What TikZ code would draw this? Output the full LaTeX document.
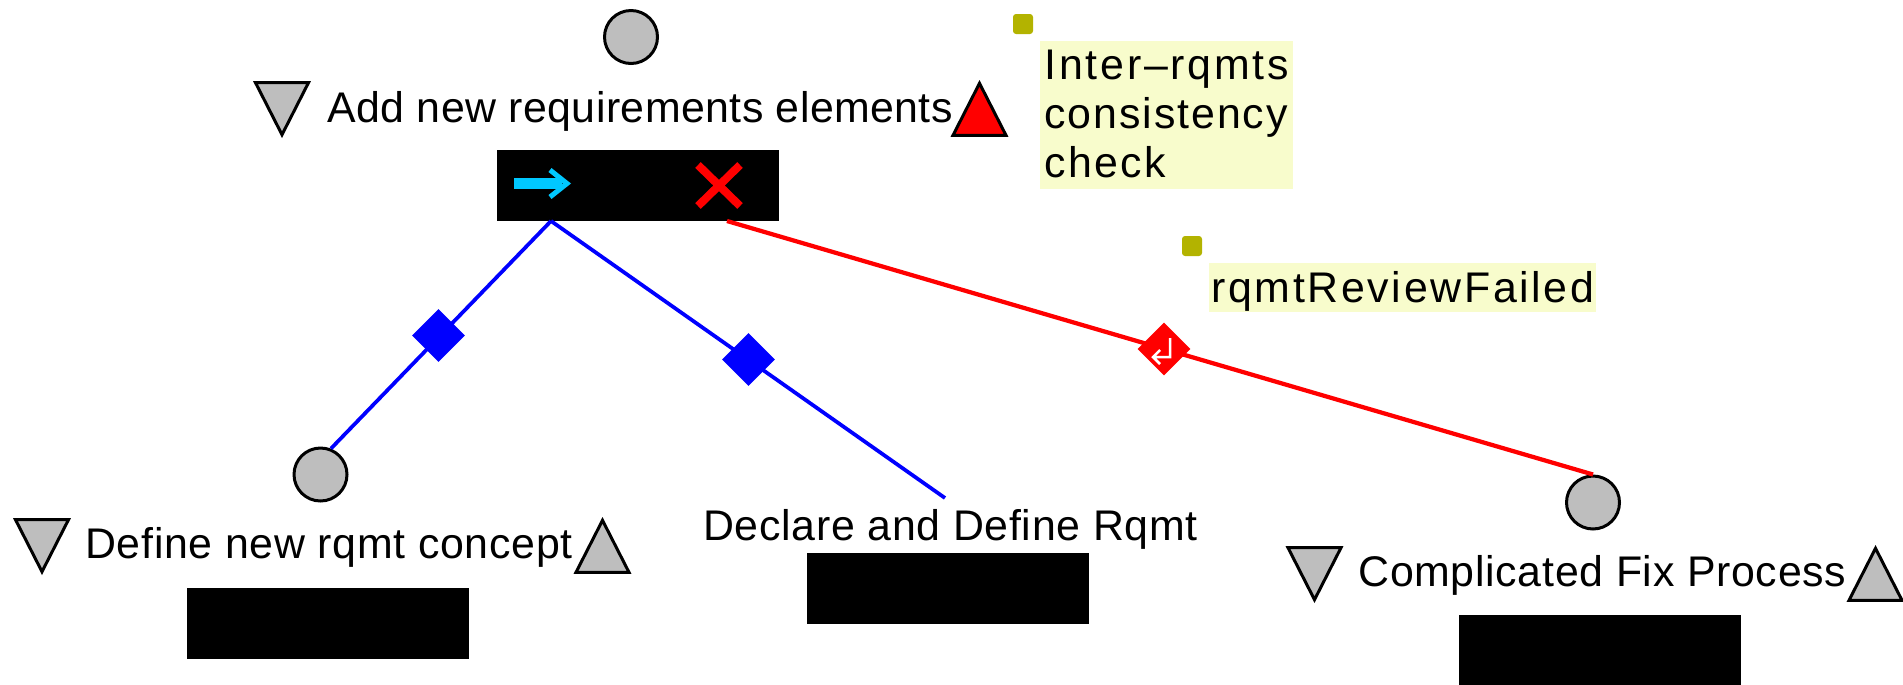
\documentclass[tikz,border=0pt]{standalone}
\usepackage{fontspec}
\usetikzlibrary{shapes.geometric}
\newfontfamily\labelfont[LetterSpace=1.6]{Liberation Sans}
\newfontfamily\notefont[LetterSpace=5.5]{Liberation Sans}
\definecolor{noteyellow}{RGB}{248,252,204}
\definecolor{noteolive}{RGB}{179,179,0}
\definecolor{portgray}{RGB}{190,190,190}
\definecolor{startcyan}{RGB}{0,200,255}
\begin{document}
\begin{tikzpicture}[x=0.02cm, y=-0.02cm,
  lbl/.style={anchor=base west, inner sep=0pt, font=\labelfont\fontsize{24.4}{27.8}\selectfont},
  notelbl/.style={lbl, font=\notefont\fontsize{24.4}{27.8}\selectfont},
  port/.style={circle, draw, line width=0.6mm, fill=portgray, inner sep=0pt, minimum size=10.6mm},
  trig/.style={isosceles triangle, isosceles triangle apex angle=54, draw, line width=0.6mm, inner sep=0pt, minimum height=10.4mm, anchor=apex},
  trigup/.style={trig, shape border rotate=90},
  trigdown/.style={trig, shape border rotate=270, fill=portgray},
  bar/.style={rectangle, fill=black, inner sep=0pt, minimum width=56.4mm, minimum height=14.2mm},
  guard/.style={diamond, inner sep=0pt, minimum width=10.6mm, minimum height=10.6mm},
  note/.style={rectangle, fill=noteyellow, anchor=north west, inner sep=0pt},
  pin/.style={rectangle, fill=noteolive, rounded corners=0.6mm, inner sep=0pt, minimum size=4mm},
  subflow/.style={blue, line width=0.75mm},
  failflow/.style={red, line width=0.85mm}]
\useasboundingbox (0,0) rectangle (1903,684);
\node[port] (addc) at (631,37) {};
\node[trigdown] (addin) at (282,138) {};
\node[lbl] (addl) at (327,122) {\addfontfeature{LetterSpace=1}Add new requirements elements};
\node[trigup, fill=red] (addout) at (979.5,80) {};
\node[bar] (addb) at (638,185.5) {};
\node[port] (defc) at (320.5,474.5) {};
\node[trigdown] (defin) at (42,575) {};
\node[lbl] (defl) at (85,558) {Define new rqmt concept};
\node[trigup, fill=portgray] (defout) at (602.5,517) {};
\node[bar] (defb) at (328,623.5) {};
\node[lbl] (decl) at (703,540) {Declare and Define Rqmt};
\node[bar] (decb) at (948,588.5) {};
\node[port] (fixc) at (1593,502.5) {};
\node[trigdown] (fixin) at (1314.5,603) {};
\node[lbl] (fixl) at (1358,586) {Complicated Fix Process};
\node[trigup, fill=portgray] (fixout) at (1875.5,545) {};
\node[bar] (fixb) at (1600,650.5) {};
\coordinate (addp) at (551,221);
\coordinate (addq) at (727,221);
\coordinate (decp) at (945,498);
\draw[subflow] (addp) -- (defc.68);
\draw[subflow] (addp) -- (decp);
\draw[failflow] (addq) -- (fixc.north);
\node[guard, fill=blue] (gdef) at (438.5,335.5) {};
\node[guard, fill=blue] (gdec) at (748.5,359.5) {};
\node[guard, fill=red] (gfix) at (1164,349) {};
\draw[white, line width=0.5mm] (1170,338) -- (1170,357) -- (1153,357) (1160,350) -- (1153,357) -- (1160,364);
\draw[startcyan, line width=2.2mm] (514,183.5) -- (562,183.5);
\draw[startcyan, line width=1mm] (550,170) -- (567,183.5) -- (550,197);
\draw[red, line width=1.6mm] (698,165) -- (740,206) (740,165) -- (698,206);
\node[pin] (pina) at (1023,24) {};
\node[note, minimum width=50.6mm, minimum height=29.6mm] (notea) at (1040,41) {};
\node[notelbl] (noteal) at (1044,79) {\addfontfeature{LetterSpace=6.5}Inter–rqmts};
\node[notelbl] (notebl) at (1044,128) {\addfontfeature{LetterSpace=4.5}consistency};
\node[notelbl] (notecl) at (1044,177) {check};
\node[pin] (pinb) at (1192,246) {};
\node[note, minimum width=77.3mm, minimum height=9.8mm] (noteb) at (1209,263) {};
\node[notelbl] (notedl) at (1211,302) {\addfontfeature{LetterSpace=6.2}rqmtReviewFailed};
\end{tikzpicture}
\end{document}
